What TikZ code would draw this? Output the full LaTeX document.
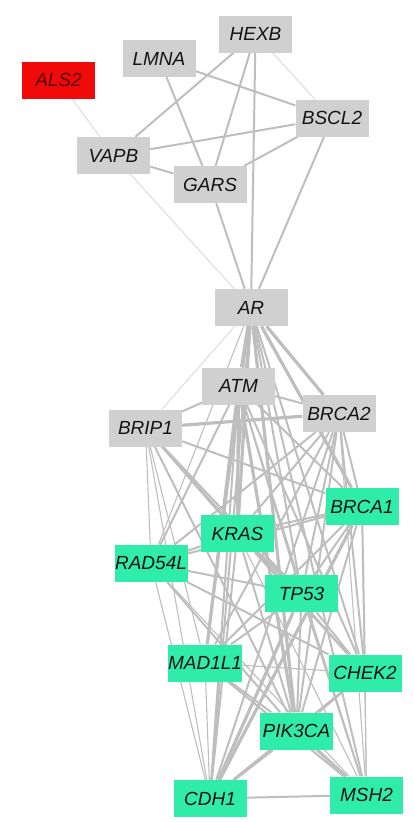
\documentclass[tikz,border=0pt]{standalone}
\usepackage{fontspec}
\setmainfont{Liberation Sans}
\usetikzlibrary{backgrounds}
\definecolor{nodegray}{RGB}{208,208,208}
\definecolor{nodegreen}{RGB}{48,236,170}
\definecolor{nodered}{RGB}{240,10,10}
\definecolor{edgegray}{RGB}{190,190,190}
\definecolor{faintgray}{RGB}{224,224,224}
\definecolor{txt}{RGB}{20,20,20}
\tikzset{
  gene/.style={rectangle, minimum width=73pt, minimum height=37pt, inner sep=0pt,
    font=\fontsize{19}{19}\selectfont\itshape, text=txt},
  graygene/.style={gene, fill=nodegray},
  greengene/.style={gene, fill=nodegreen},
  redgene/.style={gene, fill=nodered, text={rgb,255:red,90;green,0;blue,0}},
  thinE/.style={draw=edgegray, line width=1.1pt},
  midE/.style={draw=edgegray, line width=2pt},
  thickE/.style={draw=edgegray, line width=3.2pt},
  faintE/.style={draw=faintgray, line width=1.2pt},
}
\begin{document}
\begin{tikzpicture}[x=1pt,y=-1pt]
\useasboundingbox (0,0) rectangle (413,822);
% nodes
\node[graygene] (HEXB) at (255.5,34) {HEXB};
\node[graygene] (LMNA) at (159,58.5) {LMNA};
\node[redgene] (ALS2) at (58.5,80) {ALS2};
\node[graygene] (BSCL2) at (332,118) {BSCL2};
\node[graygene] (VAPB) at (113.5,155.5) {VAPB};
\node[graygene] (GARS) at (210,184.5) {GARS};
\node[graygene] (AR) at (251,307.5) {AR};
\node[graygene] (ATM) at (238.5,386) {ATM};
\node[graygene] (BRCA2) at (339,413.5) {BRCA2};
\node[graygene] (BRIP1) at (145.5,428) {BRIP1};
\node[greengene] (BRCA1) at (362,506.5) {BRCA1};
\node[greengene] (KRAS) at (237.5,533.5) {KRAS};
\node[greengene] (RAD54L) at (151,563.5) {RAD54L};
\node[greengene] (TP53) at (301.5,593.5) {TP53};
\node[greengene] (MAD1L1) at (205,663) {MAD1L1};
\node[greengene] (CHEK2) at (365,673) {CHEK2};
\node[greengene] (PIK3CA) at (296.5,731) {PIK3CA};
\node[greengene] (CDH1) at (210,798.5) {CDH1};
\node[greengene] (MSH2) at (366.5,795) {MSH2};
\begin{scope}[on background layer]
% upper cluster
\path[midE] (HEXB) -- (VAPB);
\path[midE] (HEXB) -- (GARS);
\path[midE] (HEXB) -- (AR);
\path[faintE] (HEXB) -- (BSCL2);
\path[midE] (LMNA) -- (BSCL2);
\path[midE] (LMNA) -- (GARS);
\path[midE] (VAPB) -- (BSCL2);
\path[midE] (VAPB) -- (GARS);
\path[midE] (GARS) -- (BSCL2);
\path[midE] (GARS) -- (AR);
\path[midE] (BSCL2) -- (AR);
\path[faintE] (ALS2) -- (VAPB);
\path[faintE] (VAPB) -- (AR);
\path[faintE] (AR) -- (BRIP1);
% AR fan
\path[thickE] (AR) -- (ATM);
\path[thickE] (AR) -- (BRCA2);
\path[thickE] (AR) -- (KRAS);
\path[midE] (AR) -- (TP53);
\path[thickE] (AR) -- (PIK3CA);
\path[midE] (AR) -- (CDH1);
\path[midE] (AR) -- (CHEK2);
\path[midE] (AR) -- (MSH2);
\path[thickE] (AR) -- (BRCA1);
\path[midE] (AR) -- (MAD1L1);
\path[thinE] (AR) -- (RAD54L);
% ATM
\path[midE] (ATM) -- (BRIP1);
\path[midE] (ATM) -- (BRCA2);
\path[midE] (ATM) -- (RAD54L);
\path[thickE] (ATM) -- (KRAS);
\path[midE] (ATM) -- (TP53);
\path[thickE] (ATM) -- (MAD1L1);
\path[midE] (ATM) -- (CDH1);
\path[thickE] (ATM) -- (PIK3CA);
\path[midE] (ATM) -- (CHEK2);
\path[thinE] (ATM) -- (MSH2);
\path[midE] (ATM) -- (BRCA1);
% BRCA2
\path[thickE] (BRCA2) -- (BRIP1);
\path[midE] (BRCA2) -- (RAD54L);
\path[midE] (BRCA2) -- (KRAS);
\path[midE] (BRCA2) -- (TP53);
\path[midE] (BRCA2) -- (MAD1L1);
\path[midE] (BRCA2) -- (CDH1);
\path[midE] (BRCA2) -- (PIK3CA);
\path[midE] (BRCA2) -- (CHEK2);
\path[thinE] (BRCA2) -- (MSH2);
\path[midE] (BRCA2) -- (BRCA1);
% BRIP1
\path[thinE] (BRIP1) -- (RAD54L);
\path[thinE] (BRIP1) -- (MAD1L1);
\path[thinE] (BRIP1) -- (CDH1);
\path[midE] (BRIP1) -- (TP53);
\path[midE] (BRIP1) -- (BRCA1);
\path[midE] (BRIP1) -- (CHEK2);
\path[midE] (BRIP1) -- (PIK3CA);
\path[midE] (BRIP1) -- (KRAS);
% green cluster
\path[thickE] (KRAS) -- (TP53);
\path[midE] (KRAS) -- (RAD54L);
\path[midE] (KRAS) -- (BRCA1);
\path[midE] (KRAS) -- (PIK3CA);
\path[midE] (KRAS) -- (CDH1);
\path[thinE] (KRAS) -- (MSH2);
\path[midE] (KRAS) -- (CHEK2);
\path[midE] (RAD54L) -- (TP53);
\path[thinE] (RAD54L) -- (CDH1);
\path[midE] (RAD54L) -- (PIK3CA);
\path[thinE] (RAD54L) -- (MSH2);
\path[midE] (RAD54L) -- (BRCA1);
\path[midE] (RAD54L) -- (CHEK2);
\path[midE] (TP53) -- (PIK3CA);
\path[thickE] (TP53) -- (CDH1);
\path[midE] (TP53) -- (MAD1L1);
\path[midE] (TP53) -- (CHEK2);
\path[midE] (TP53) -- (MSH2);
\path[midE] (TP53) -- (BRCA1);
\path[thinE] (MAD1L1) -- (CHEK2);
\path[thinE] (MAD1L1) -- (CDH1);
\path[midE] (MAD1L1) -- (PIK3CA);
\path[midE] (MAD1L1) -- (BRCA1);
\path[midE] (MAD1L1) -- (MSH2);
\path[midE] (CHEK2) -- (PIK3CA);
\path[thinE] (CHEK2) -- (MSH2);
\path[midE] (CHEK2) -- (CDH1);
\path[thickE] (PIK3CA) -- (CDH1);
\path[thickE] (PIK3CA) -- (MSH2);
\path[midE] (CDH1) -- (MSH2);
\path[midE] (BRCA1) -- (PIK3CA);
\path[thickE] (BRCA1) -- (CDH1);
\path[thinE] (BRCA1) -- (MSH2);
\path[midE] (BRCA1) -- (CHEK2);
\end{scope}
\end{tikzpicture}
\end{document}
